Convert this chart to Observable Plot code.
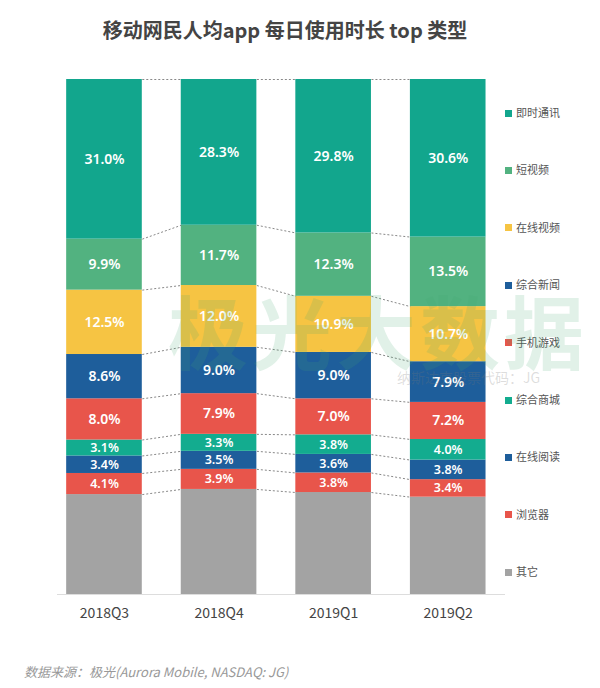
<!DOCTYPE html>
<html><head><meta charset="utf-8">
<script src="https://cdn.jsdelivr.net/npm/d3@7"></script>
<script src="https://cdn.jsdelivr.net/npm/@observablehq/plot@0.6"></script>
<style>
body{margin:0;background:#fff;font-family:"Noto Sans CJK SC","Noto Sans",sans-serif;}
#wrap{position:relative;width:600px;height:688px;overflow:hidden;background:#fff}
#title{position:absolute;left:0;top:0;width:570px;height:60px;line-height:60px;text-align:center;font-size:20px;font-weight:bold;color:#444}
#chart{position:absolute;left:0;top:60px}
#legend .row{position:absolute;left:505px;height:16px;line-height:16px;font-size:11px;color:#555;white-space:nowrap}
#legend .sw{display:inline-block;width:7px;height:7px;margin-right:4px;vertical-align:middle;position:relative;top:-1px}
#footer{position:absolute;left:24px;top:660px;line-height:24px;font-size:13px;font-style:italic;color:#999}
#wm{position:absolute;left:168px;top:270px;font-size:80px;font-weight:bold;color:rgba(70,170,115,0.16);letter-spacing:4px;pointer-events:none;white-space:nowrap}
#wm2{position:absolute;left:397px;top:367px;font-size:14px;color:rgba(120,120,120,0.25);pointer-events:none;white-space:nowrap}
</style></head><body>
<div id="wrap">
<div id="title">移动网民人均app 每日使用时长 top 类型</div>
<div id="chart"></div>
<div id="legend"></div>
<div id="wm">极光大数据</div>
<div id="wm2">纳斯达克股票代码：JG</div>
<div id="footer">数据来源：极光(Aurora Mobile, NASDAQ: JG)</div>
</div>
<script>
const quarters = ["2018Q3","2018Q4","2019Q1","2019Q2"];
const categories = ["即时通讯","短视频","在线视频","综合新闻","手机游戏","综合商城","在线阅读","浏览器","其它"];
const colors = ["#12A68D","#52B280","#F6C443","#1E5E9B","#E8554B","#13AC8F","#1E5E9B","#E8554B","#A3A3A3"];
const instantMessaging = [31.0, 28.3, 29.8, 30.6];
const shortVideo       = [9.9, 11.7, 12.3, 13.5];
const onlineVideo      = [12.5, 12.0, 10.9, 10.7];
const news             = [8.6, 9.0, 9.0, 7.9];
const mobileGames      = [8.0, 7.9, 7.0, 7.2];
const eCommerce        = [3.1, 3.3, 3.8, 4.0];
const onlineReading    = [3.4, 3.5, 3.6, 3.8];
const browser          = [4.1, 3.9, 3.8, 3.4];
const other            = [19.4, 20.4, 19.8, 18.9];

const series = [instantMessaging, shortVideo, onlineVideo, news, mobileGames, eCommerce, onlineReading, browser, other];

// build stacked rows (bottom = 其它, top = 即时通讯)
const rows = [];
const tops = quarters.map(() => ({}));
quarters.forEach((q, qi) => {
  let acc = 0;
  for (let j = categories.length - 1; j >= 0; j--) {
    const v = series[j][qi];
    rows.push({q, qi, cat: categories[j], v, y1: acc, y2: acc + v});
    acc += v;
    tops[qi][categories[j]] = acc;
  }
});
const hw = 0.33;
const links = [];
for (let i = 0; i < quarters.length - 1; i++) {
  categories.forEach(c => links.push({x1: i + hw, x2: i + 1 - hw, y1: tops[i][c], y2: tops[i + 1][c]}));
}
const labelled = rows.filter(d => d.cat !== "其它");
const big = labelled.filter(d => d.v >= 5);
const small = labelled.filter(d => d.v < 5);

const chart = Plot.plot({
  width: 600, height: 600,
  marginTop: 19, marginBottom: 66, marginLeft: 57, marginRight: 95,
  x: {domain: [-0.41, 3.5]},
  y: {domain: [0, 100], axis: null},
  color: {domain: categories, range: colors},
  style: {fontFamily: "'Noto Sans CJK SC','Noto Sans',sans-serif", background: "transparent", color: "#444"},
  marks: [
    Plot.ruleY([0], {stroke: "#ddd", strokeWidth: 1}),
    Plot.rect(rows, {x1: d => d.qi - hw, x2: d => d.qi + hw, y1: "y1", y2: "y2", fill: "cat"}),
    Plot.link(links, {x1: "x1", x2: "x2", y1: "y1", y2: "y2", stroke: "#888", strokeWidth: 1, strokeDasharray: "2,2"}),
    Plot.text(big, {x: "qi", y: d => (d.y1 + d.y2) / 2, text: d => d.v.toFixed(1) + "%", fill: "white", fontSize: 14, fontWeight: 600, fontFamily: "'Noto Sans',sans-serif"}),
    Plot.text(small, {x: "qi", y: d => (d.y1 + d.y2) / 2, text: d => d.v.toFixed(1) + "%", fill: "white", fontSize: 12.5, fontWeight: 600, fontFamily: "'Noto Sans',sans-serif"}),
    Plot.axisX([0, 1, 2, 3], {tickFormat: i => quarters[i], tickSize: 0, tickPadding: 14, fontSize: 14, label: null, fill: "#444"})
  ]
});
document.getElementById("chart").appendChild(chart);

const legend = document.getElementById("legend");
categories.forEach((c, i) => {
  const row = document.createElement("div");
  row.className = "row";
  row.style.top = (112 + 57.4 * i - 8) + "px";
  const sw = document.createElement("span");
  sw.className = "sw";
  sw.style.background = colors[i];
  row.appendChild(sw);
  row.appendChild(document.createTextNode(c));
  legend.appendChild(row);
});
</script>
</body></html>
